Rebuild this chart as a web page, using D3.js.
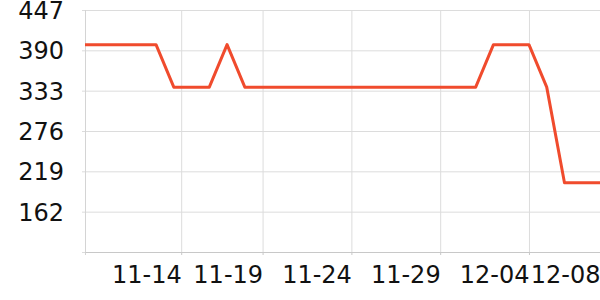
<!DOCTYPE html>
<html>
<head>
<meta charset="utf-8">
<script src="https://cdn.jsdelivr.net/npm/d3@7"></script>
<style>
  body { margin: 0; background: #fff; }
  svg { display: block; }
  .grid line { stroke: #dcdcdc; stroke-width: 1; }
  .grid path { display: none; }
  .axis text { fill: #111; font-size: 24px; font-family: "DejaVu Sans", sans-serif; }
</style>
</head>
<body>
<svg id="chart"></svg>
<script>
// Data
let dates = [
    '2023-11-09', '2023-11-10', '2023-11-11', '2023-11-12', '2023-11-13',
    '2023-11-14', '2023-11-15', '2023-11-16', '2023-11-17', '2023-11-18',
    '2023-11-19', '2023-11-20', '2023-11-21', '2023-11-22', '2023-11-23',
    '2023-11-24', '2023-11-25', '2023-11-26', '2023-11-27', '2023-11-28',
    '2023-11-29', '2023-11-30', '2023-12-01', '2023-12-02', '2023-12-03',
    '2023-12-04', '2023-12-05', '2023-12-06', '2023-12-07', '2023-12-08'
];
let values = [
    398, 398, 398, 398, 398,
    338, 338, 338, 398, 338,
    338, 338, 338, 338, 338,
    338, 338, 338, 338, 338,
    338, 338, 338, 398, 398,
    398, 338, 203, 203, 203
];
let yTicks = [162, 219, 276, 333, 390, 447];
let yGridTicks = [105, 162, 219, 276, 333, 390, 447];
let xTickDates = ['2023-11-14T10:00', '2023-11-19', '2023-11-24', '2023-11-29', '2023-12-04', '2023-12-08'];
let xTickLabels = ['11-14', '11-19', '11-24', '11-29', '12-04', '12-08'];

let width = 600;
let height = 300;
let plotLeft = 85;
let plotRight = 600;
let plotTop = 10;
let plotBottom = 252;

let parse = d3.timeParse('%Y-%m-%d');
let parseFull = (s) => s.length > 10 ? d3.isoParse(s) : parse(s);

let points = dates.map((d, i) => ({ date: parse(d), value: values[i] }));
let tickDates = xTickDates.map(parseFull);

let svg = d3.select('#chart')
    .attr('width', width)
    .attr('height', height);

let xScale = d3.scaleTime()
    .domain([parse(dates[0]), parse(dates[dates.length - 1])])
    .range([plotLeft, plotRight]);

let yScale = d3.scaleLinear()
    .domain([105, 447])
    .range([plotBottom, plotTop]);

// horizontal grid lines (with a short stub left of the axis)
let yGrid = svg.append('g')
    .attr('class', 'grid')
    .attr('transform', 'translate(' + plotLeft + ',0)')
    .call(d3.axisLeft(yScale).tickValues(yGridTicks).tickSize(-(plotRight - plotLeft)).tickFormat(''));
yGrid.selectAll('line').attr('x1', -3);

// vertical grid lines
svg.append('g')
    .attr('class', 'grid')
    .attr('transform', 'translate(0,' + plotBottom + ')')
    .call(d3.axisBottom(xScale).tickValues(tickDates.slice(0, 5)).tickSize(-(plotBottom - plotTop)).tickFormat(''));

// left axis line
svg.append('line')
    .attr('x1', plotLeft + 0.5).attr('x2', plotLeft + 0.5)
    .attr('y1', plotTop).attr('y2', plotBottom + 3)
    .attr('stroke', '#d4d4d4');

// bottom axis with short ticks
let xAxis = svg.append('g')
    .attr('class', 'axis')
    .attr('transform', 'translate(0,' + plotBottom + ')')
    .call(d3.axisBottom(xScale)
        .tickValues(tickDates)
        .tickSize(3)
        .tickPadding(10)
        .tickFormat((d, i) => xTickLabels[i]));
xAxis.select('.domain').attr('stroke', '#c8c8c8').attr('d', 'M' + (plotLeft + 0.5) + ',0.5H' + plotRight);
xAxis.selectAll('line').attr('stroke', '#c8c8c8');
xAxis.selectAll('text')
    .attr('text-anchor', 'end')
    .attr('dy', '0')
    .attr('y', 31);

// left axis labels
let yAxis = svg.append('g')
    .attr('class', 'axis')
    .attr('transform', 'translate(' + plotLeft + ',0)')
    .call(d3.axisLeft(yScale).tickValues(yTicks).tickSize(0).tickPadding(21));
yAxis.select('.domain').remove();
yAxis.selectAll('text').attr('dy', '0.36em');

// the line
let line = d3.line()
    .x((d) => xScale(d.date))
    .y((d) => yScale(d.value));

svg.append('path')
    .datum(points)
    .attr('fill', 'none')
    .attr('stroke', '#f04b2d')
    .attr('stroke-width', 3)
    .attr('stroke-linejoin', 'round')
    .attr('d', line);
</script>
</body>
</html>
